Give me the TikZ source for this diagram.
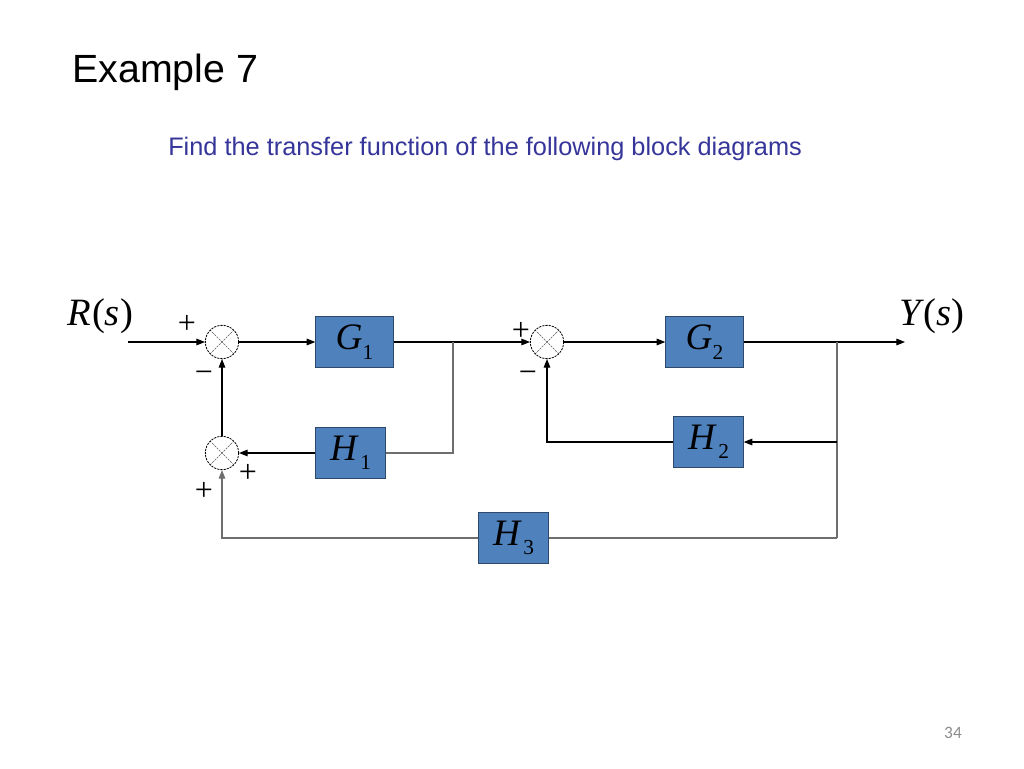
\documentclass[tikz,border=0pt]{standalone}
\usepackage{fontspec}
\setmainfont{Liberation Sans}
\newfontfamily\pagefont{Carlito}
\newfontfamily\tnr{Liberation Serif}
\usepackage{xcolor}
\usetikzlibrary{arrows.meta}
\definecolor{blockfill}{HTML}{4F81BD}
\definecolor{blockline}{HTML}{2E4A6B}
\definecolor{subtitle}{HTML}{35359A}
\definecolor{wire}{HTML}{6E6E6E}
\definecolor{pagenum}{HTML}{8C8C8C}
\newcommand{\blk}[3]{{\itshape #1}\kern#3\raisebox{-7pt}{\fontsize{16}{18}\selectfont #2}}
\tikzset{
  block/.style={draw=blockline, fill=blockfill, line width=0.8pt, minimum width=52pt, minimum height=38.5pt, inner sep=0pt, font=\tnr\fontsize{28}{30}\selectfont},
  wideblock/.style={block, minimum width=58pt},
  sumpt/.style={circle, draw, dash pattern=on 1.6pt off 0.8pt, line width=0.6pt, minimum size=25pt, inner sep=0pt,
    path picture={\draw[black!65, line width=0.5pt]
      (path picture bounding box.north west) -- (path picture bounding box.south east)
      (path picture bounding box.north east) -- (path picture bounding box.south west);}},
  sig/.style={inner sep=0pt, font=\tnr\fontsize{24}{26}\selectfont},
  sigtext/.style={font=\tnr\fontsize{29}{32}\selectfont},
  line/.style={draw=black, line width=0.8pt},
  arr/.style={line, -{Triangle[length=6.5pt,width=5pt]}},
  branch/.style={draw=wire, line width=1pt},
}

\begin{document}
\begin{tikzpicture}[x=0.75pt,y=-0.75pt]
  \useasboundingbox[fill=white] (0,0) rectangle (1024,768);
  % heading
  \node[anchor=base west, inner sep=0pt, font=\fontsize{29.5}{34}\selectfont] (title) at (72,82) {Example 7};
  \node[anchor=base west, inner sep=0pt, text=subtitle, font=\fontsize{19}{23}\selectfont] (task) at (168,155) {Find the transfer function of the following block diagrams};
  \node[text=pagenum, font=\pagefont\fontsize{13}{15}\selectfont] (page) at (953,733) {34};

  % blocks
  \node[wideblock] (G1) at (354.5,342) {\blk{G}{1}{0pt}};
  \node[wideblock] (G2) at (704.5,342) {\blk{G}{2}{0pt}};
  \node[block] (H1) at (350.5,453) {\blk{H}{1}{2.5pt}};
  \node[block] (H2) at (708.5,442) {\blk{H}{2}{2.5pt}};
  \node[block] (H3) at (513.5,538) {\blk{H}{3}{2.5pt}};

  % summing points
  \node[sumpt] (S1) at (222,342) {};
  \node[sumpt] (S2) at (547,342) {};
  \node[sumpt] (S3) at (222,453) {};

  % free ends and branch points
  \coordinate (in) at (128,342);
  \coordinate (out) at (905,342);
  \coordinate (B1) at (453,342);
  \coordinate (B2) at (837,342);
  \coordinate (B3) at (837,538);

  \node[sigtext] (R) at (100,316) {{\itshape R}\kern1pt({\itshape s})};
  \node[sigtext] (Y) at (932,316) {{\itshape Y}\kern2pt({\itshape s})};

  % signs
  \node[sig] (p1) at (187,324) {+};
  \node[sig] (m1) at (204,377) {−};
  \node[sig] (p2) at (521,331) {+};
  \node[sig] (m2) at (528,377) {−};
  \node[sig] (p3) at (248,473) {+};
  \node[sig] (p4) at (204,491) {+};

  % connectors
  \draw[arr] (in) -- (S1);
  \draw[arr] (S1) -- (G1);
  \draw[arr] (G1) -- (S2);
  \draw[branch] (B1) |- (H1);
  \draw[arr] (H1) -- (S3);
  \draw[arr] (S3) -- (S1);
  \draw[arr] (S2) -- (G2);
  \draw[arr] (G2) -- (out);
  \draw[branch] (B2) -- (B3);
  \draw[arr] (B2 |- H2) -- (H2);
  \draw[arr] (H2) -| (S2);
  \draw[branch] (B3) -- (H3);
  \draw[arr, draw=wire] (H3) -| (S3);
\end{tikzpicture}
\end{document}
